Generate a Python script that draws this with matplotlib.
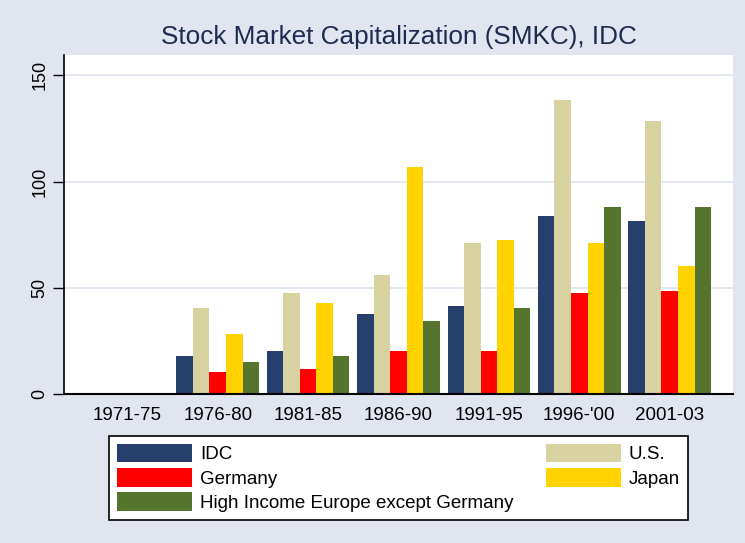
import matplotlib
matplotlib.use("Agg")
import matplotlib.pyplot as plt
import numpy as np

plt.rcParams["font.family"] = ["Liberation Sans", "DejaVu Sans"]

periods = ["1971-75", "1976-80", "1981-85", "1986-90", "1991-95", "1996-'00", "2001-03"]
series_names = ["IDC", "U.S.", "Germany", "Japan", "High Income Europe except Germany"]
idc = [np.nan, 17.9, 20.4, 37.6, 41.5, 83.6, 81.3]
us = [np.nan, 40.6, 47.6, 56.1, 71.1, 138.2, 128.3]
germany = [np.nan, 10.2, 11.8, 20.3, 20.3, 47.6, 48.4]
japan = [np.nan, 28.3, 42.9, 107.0, 72.6, 71.1, 60.4]
hi_europe = [np.nan, 15.0, 17.9, 34.4, 40.6, 88.2, 88.2]

colors = ["#273F6D", "#D8D2A0", "#FF0000", "#FFD200", "#55752F"]
BG = "#E1E5EF"

fig = plt.figure(figsize=(7.45, 5.43), dpi=100, facecolor=BG)
ax = fig.add_axes([64 / 745, 1 - 394 / 543, (733 - 64) / 745, (394 - 55) / 543])
ax.set_facecolor("white")

x = np.arange(len(periods))
bw = 0.183
bars = []
for i, (vals, c) in enumerate(zip([idc, us, germany, japan, hi_europe], colors)):
    off = (i - 2) * bw
    b = ax.bar(x + off, vals, width=bw, color=c, edgecolor="none", zorder=2)
    bars.append(b)

ax.set_xlim(-0.70, 6.70)
ax.set_ylim(0, 159.6)
ax.set_yticks([0, 50, 100, 150])
ax.yaxis.grid(True, color="#DDE3F0", lw=1.2, zorder=0)
ax.set_axisbelow(True)
for lab in ax.get_yticklabels():
    lab.set_rotation(90)
    lab.set_va("center")
ax.tick_params(axis="y", length=8, width=1, labelsize=13, pad=3, direction="out")
ax.set_xticks(x)
ax.set_xticklabels(periods)
ax.tick_params(axis="x", length=0, labelsize=13.5, pad=9)
for s in ["top", "right"]:
    ax.spines[s].set_visible(False)
ax.spines["left"].set_linewidth(1.2)
ax.spines["bottom"].set_linewidth(1.5)

fig.text(398.5 / 745, 1 - 37 / 543, "Stock Market Capitalization (SMKC), IDC",
         ha="center", va="center", fontsize=18.8, color="#1E2B50")

order = [0, 2, 4, 1, 3]
leg = fig.legend([bars[i] for i in order], [series_names[i] for i in order],
                 ncol=2, loc="lower left", mode="expand",
                 bbox_to_anchor=(109 / 745, 1 - 520 / 543, (688 - 109) / 745, (520 - 431) / 543),
                 borderaxespad=0, fontsize=13.5, handlelength=4.0, handleheight=1.15,
                 labelspacing=0.25, handletextpad=0.42, borderpad=0.42,
                 fancybox=False, edgecolor="black", framealpha=1)
leg.get_frame().set_linewidth(1.2)

fig.savefig("out.png", dpi=100, facecolor=BG)
